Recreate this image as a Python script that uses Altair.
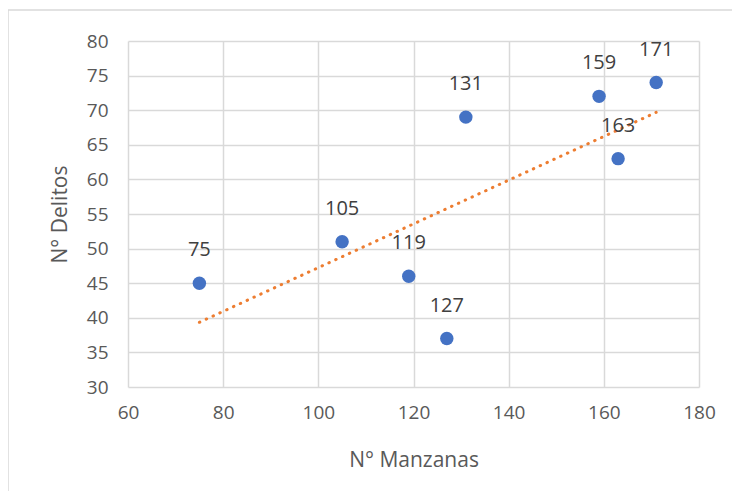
import altair as alt
import pandas as pd

manzanas = [75, 105, 119, 127, 131, 159, 163, 171]
delitos = [45, 51, 46, 37, 69, 72, 63, 74]
labels = [str(v) for v in manzanas]
x_ticks = [60, 80, 100, 120, 140, 160, 180]
y_ticks = [30, 35, 40, 45, 50, 55, 60, 65, 70, 75, 80]

df = pd.DataFrame({"x": manzanas, "y": delitos, "label": labels})

FONT = "Open Sans"
W, H = 571, 346

xscale = alt.Scale(domain=[60, 180], nice=False, zero=False)
yscale = alt.Scale(domain=[30, 80], nice=False, zero=False)

xaxis = alt.Axis(title="N° Manzanas", values=x_ticks,
                 grid=True, ticks=False, domain=False, labelPadding=16,
                 labelOverlap=False, labelFlush=False,
                 titleX=W / 2, titleY=73, titleBaseline="middle")
yaxis = alt.Axis(title="N° Delitos", values=y_ticks,
                 grid=True, ticks=False, domain=False, labelPadding=20,
                 labelOverlap=False, labelFlush=False,
                 titleX=-68, titleY=H / 2, titleBaseline="middle",
                 titleAlign="center")

X = alt.X("x:Q", scale=xscale, axis=xaxis)
Y = alt.Y("y:Q", scale=yscale, axis=yaxis)

base = alt.Chart(df)
one = alt.Chart(pd.DataFrame({"k": [0]}))

frame_left = one.mark_rule(color="#d9d9d9", strokeWidth=1.5).encode(
    x=alt.value(-120), y=alt.value(-31), y2=alt.value(H + 120),
)
frame_top = one.mark_rule(color="#d9d9d9", strokeWidth=1.5).encode(
    x=alt.value(-120), x2=alt.value(W + 60), y=alt.value(-31),
)

trend = base.transform_regression("x", "y", extent=[75, 171]).mark_line(
    color="#ED7D31", strokeWidth=3, strokeDash=[0.5, 7], strokeCap="round"
).encode(x=X, y=Y)

points = base.mark_circle(size=180, color="#4472C4", opacity=1).encode(x=X, y=Y)

text = base.mark_text(font=FONT, fontSize=20, color="#404040", dy=-33,
                      baseline="middle", align="center").encode(
    x=X, y=Y, text="label:N",
)

chart = alt.layer(frame_left, frame_top, trend, points, text).properties(
    width=W, height=H,
    autosize=alt.AutoSizeParams(type="none"),
    padding={"left": 120, "top": 33, "right": 33, "bottom": 104},
).configure_view(stroke=None).configure_axis(
    gridColor="#d9d9d9", gridWidth=1.5,
    labelFont=FONT, labelFontSize=19, labelColor="#595959",
    titleFont=FONT, titleFontSize=21, titleColor="#595959", titleFontWeight="normal",
)

chart.save("out.html", embed_options={"renderer": "svg", "actions": False})
